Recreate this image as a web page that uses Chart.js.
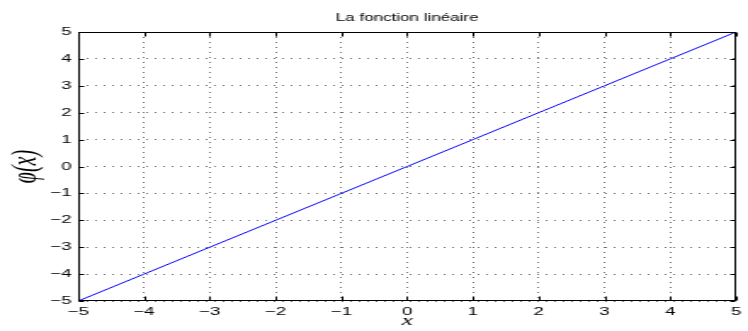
<!DOCTYPE html>
<html>
<head>
<meta charset="utf-8">
<script src="https://cdn.jsdelivr.net/npm/chart.js@4.4.1/dist/chart.umd.min.js"></script>
<style>
    html, body { margin: 0; padding: 0; background: #fff; overflow: hidden; }
    /* the reference figure is stretched horizontally, so draw narrow and stretch */
    #wrap { width: 440px; height: 331px; transform: scaleX(1.7); transform-origin: 0 0; }
</style>
</head>
<body>
<div id="wrap"><canvas id="chart" width="440" height="331"></canvas></div>
<script>
// Data
const xValues = [-5, -4, -3, -2, -1, 0, 1, 2, 3, 4, 5];
const yValues = [-5, -4, -3, -2, -1, 0, 1, 2, 3, 4, 5];

// Axes
const xTicks = [-5, -4, -3, -2, -1, 0, 1, 2, 3, 4, 5];
const yTicks = [-5, -4, -3, -2, -1, 0, 1, 2, 3, 4, 5];
const titleText = 'La fonction linéaire';
const xLabel = 'x';
const yLabel = 'φ(x)';

const tickFont = { family: '"Liberation Sans", Arial, sans-serif', size: 11 };

function fmtTick(v) {
    return v < 0 ? '\u2212' + Math.abs(v) : String(v);
}

/**
 * MATLAB-like box, inner ticks, title and axis labels
 */
const matlabDecor = {
    id: 'matlabDecor',
    afterDraw(chart) {
        const { ctx, chartArea: a, scales } = chart;
        const left = Math.round(a.left) + 0.5;
        const right = Math.round(a.right) - 0.5;
        const top = Math.round(a.top) + 0.5;
        const bottom = Math.round(a.bottom) - 0.5;

        ctx.save();
        ctx.strokeStyle = '#000';
        ctx.lineWidth = 1;
        ctx.strokeRect(left, top, right - left, bottom - top);

        // inner ticks
        ctx.beginPath();
        xTicks.forEach(v => {
            const px = Math.round(scales.x.getPixelForValue(v)) + 0.5;
            ctx.moveTo(px, bottom); ctx.lineTo(px, bottom - 4);
            ctx.moveTo(px, top); ctx.lineTo(px, top + 4);
        });
        yTicks.forEach(v => {
            const py = Math.round(scales.y.getPixelForValue(v)) + 0.5;
            ctx.moveTo(left, py); ctx.lineTo(left + 3, py);
            ctx.moveTo(right, py); ctx.lineTo(right - 3, py);
        });
        ctx.stroke();

        const cx = (a.left + a.right) / 2;
        const cy = (a.top + a.bottom) / 2;
        ctx.fillStyle = '#000';
        ctx.textAlign = 'center';
        ctx.textBaseline = 'middle';

        // title
        ctx.font = '10px "Liberation Sans", Arial, sans-serif';
        ctx.fillText(titleText, cx, 18);

        // x label
        ctx.font = 'italic 15px "Liberation Serif", "DejaVu Serif", serif';
        ctx.fillText(xLabel, cx, 321);

        // y label
        ctx.translate(16, cy);
        ctx.rotate(-Math.PI / 2);
        ctx.font = 'italic 20px "Liberation Serif", "DejaVu Serif", serif';
        ctx.fillText(yLabel, 0, 0);
        ctx.restore();
    }
};

const ctx = document.getElementById('chart').getContext('2d');

new Chart(ctx, {
    type: 'scatter',
    data: {
        datasets: [{
            data: xValues.map((x, i) => ({ x: x, y: yValues[i] })),
            showLine: true,
            borderColor: '#0000ff',
            borderWidth: 1,
            pointRadius: 0,
            fill: false
        }]
    },
    options: {
        responsive: false,
        animation: false,
        events: [],
        layout: {
            padding: { top: 32, right: 1, left: 0, bottom: 0 }
        },
        plugins: {
            legend: { display: false },
            tooltip: { enabled: false },
            title: { display: false }
        },
        scales: {
            x: {
                type: 'linear',
                min: -5,
                max: 5,
                afterBuildTicks: s => { s.ticks = xTicks.map(v => ({ value: v })); },
                afterFit: s => { s.height = 30; },
                grid: { color: '#6e6e6e', lineWidth: 1, drawTicks: false },
                border: { display: false, dash: [1, 4] },
                ticks: {
                    color: '#000',
                    font: tickFont,
                    padding: 4,
                    maxRotation: 0,
                    autoSkip: false,
                    callback: v => fmtTick(v)
                }
            },
            y: {
                type: 'linear',
                min: -5,
                max: 5,
                afterBuildTicks: s => { s.ticks = yTicks.map(v => ({ value: v })); },
                afterFit: s => { s.width = 46; },
                grid: { color: '#6e6e6e', lineWidth: 1, drawTicks: false },
                border: { display: false, dash: [1, 4] },
                ticks: {
                    color: '#000',
                    font: tickFont,
                    padding: 4,
                    autoSkip: false,
                    callback: v => fmtTick(v)
                }
            }
        }
    },
    plugins: [matlabDecor]
});
</script>
</body>
</html>
